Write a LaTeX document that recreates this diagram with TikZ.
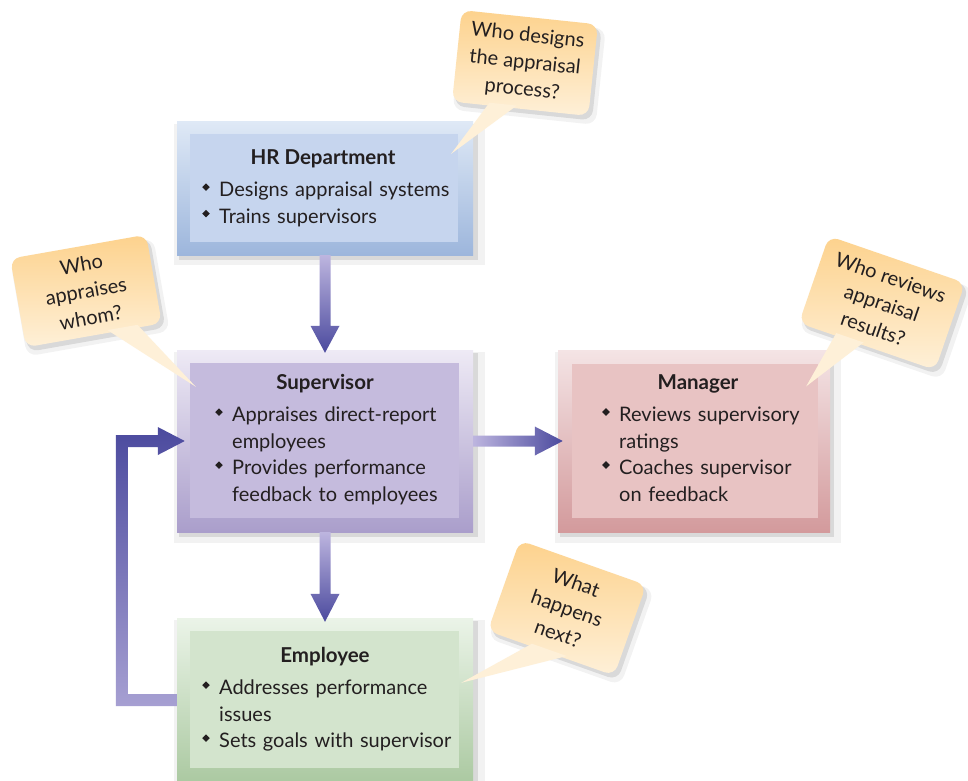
\documentclass[tikz,border=0pt]{standalone}
\usepackage{fontspec}
\setmainfont{Lato}
\usetikzlibrary{calc,shadows}

\definecolor{ink}{HTML}{231F20}
\definecolor{arrowdark}{HTML}{4B4A9E}
\definecolor{arrowlight}{HTML}{BDB5DF}
\definecolor{hrtop}{HTML}{DFE9F6}
\definecolor{hrbot}{HTML}{9DB6DC}
\definecolor{hrin}{HTML}{C6D5EE}
\definecolor{suptop}{HTML}{EEEAF5}
\definecolor{supbot}{HTML}{AA9ECB}
\definecolor{supin}{HTML}{C5BBDD}
\definecolor{mantop}{HTML}{F4E4E5}
\definecolor{manbot}{HTML}{D39A9C}
\definecolor{manin}{HTML}{E8C3C3}
\definecolor{emptop}{HTML}{EBF4E8}
\definecolor{empbot}{HTML}{A8C79E}
\definecolor{empin}{HTML}{D3E4CD}
\definecolor{bubtop}{HTML}{FDD28D}
\definecolor{bubbot}{HTML}{FEF0D8}

\newcommand{\bitem}[1]{\noindent\hangindent=0.9em\hangafter=1%
  \makebox[0.9em][l]{\hspace{0.05em}\raisebox{0.3em}{\rotatebox{45}{\rule{0.27em}{0.27em}}}}#1\par}

\begin{document}
\begin{tikzpicture}[x=1pt,y=-1pt,
  shadowed/.style={general shadow={fill=black,opacity=0.05,shadow xshift=4pt,shadow yshift=-6pt,shadow scale=1.05},
                   general shadow={fill=black,opacity=0.1,shadow xshift=3pt,shadow yshift=-4pt,shadow scale=1.01}},
  outerbox/.style={inner sep=0pt, shadowed},
  innerbox/.style={inner sep=0pt},
  boxtitle/.style={inner sep=0pt, text=ink, font=\fontsize{20.5}{24}\selectfont\bfseries},
  blist/.style={anchor=north west, inner sep=0pt, text width=270, align=left, text=ink,
                font=\fontsize{20}{26.5}\selectfont},
  bubble/.style={rounded corners=10pt, inner sep=0pt, align=center, text=ink,
                 top color=bubtop, bottom color=bubbot, shadowed,
                 font=\fontsize{20}{27}\selectfont},
  tail/.style={fill=bubbot}
]
\useasboundingbox (0,0) rectangle (968,780);
\clip (0,0) rectangle (968,780);
\fill[white] (0,0) rectangle (968,780);

% boxes
\node[outerbox, minimum width=296, minimum height=134, top color=hrtop, bottom color=hrbot] (hr) at (325,188) {};
\node[innerbox, minimum width=268, minimum height=108, fill=hrin] (hrin) at (324,188) {};
\node[boxtitle] (hrt) at (323,159) {HR Department};
\node[blist] (hrl) at (201,182) {\bitem{Designs appraisal systems}\bitem{Trains supervisors}};

\node[outerbox, minimum width=296, minimum height=182, top color=suptop, bottom color=supbot] (sup) at (325,441) {};
\node[innerbox, minimum width=269, minimum height=155, fill=supin] (supin) at (324.5,440.5) {};
\node[boxtitle] (supt) at (325,384) {Supervisor};
\node[blist] (supl) at (214,407) {\bitem{Appraises direct-report\newline employees}\bitem{Provides performance\newline feedback to employees}};

\node[outerbox, minimum width=272, minimum height=182, top color=mantop, bottom color=manbot] (man) at (694,441) {};
\node[innerbox, minimum width=246, minimum height=154, fill=manin] (manin) at (695,440.5) {};
\node[boxtitle] (mant) at (698,384) {Manager};
\node[blist] (manl) at (601,407) {\bitem{Reviews supervisory\newline ratings}\bitem{Coaches supervisor\newline on feedback}};

\node[outerbox, minimum width=296, minimum height=172, top color=emptop, bottom color=empbot] (emp) at (325,704) {};
\node[innerbox, minimum width=269, minimum height=137, fill=empin] (empin) at (324.5,699.5) {};
\node[boxtitle] (empt) at (325,657) {Employee};
\node[blist] (empl) at (201,680) {\bitem{Addresses performance\newline issues}\bitem{Sets goals with supervisor}};

% arrows
\shade[top color=arrowlight, bottom color=arrowdark]
  ($(hr.south)+(-5.5,0)$) -- ($(sup.north)+(-5.5,-24)$) -- ++(-9,0) -- ($(sup.north)+(0,3)$)
  -- ($(sup.north)+(14.5,-24)$) -- ++(-9,0) -- ($(hr.south)+(5.5,0)$) -- cycle;
\shade[top color=arrowlight, bottom color=arrowdark]
  ($(sup.south)+(-5.5,0)$) -- ($(emp.north)+(-5.5,-24)$) -- ++(-9,0) -- ($(emp.north)+(0,4)$)
  -- ($(emp.north)+(14.5,-24)$) -- ++(-9,0) -- ($(sup.south)+(5.5,0)$) -- cycle;
\shade[left color=arrowlight, right color=arrowdark]
  ($(sup.east)+(0,-5.5)$) -- ($(man.west)+(-23,-5.5)$) -- ++(0,-9) -- ($(man.west)+(5,0)$)
  -- ($(man.west)+(-23,14.5)$) -- ++(0,-9) -- ($(sup.east)+(0,5.5)$) -- cycle;
% feedback loop
\shade[top color=arrowdark, bottom color=arrowlight!80!arrowdark]
  ($(emp.west)+(0,2)$) -- ($(emp.west)+(-61,2)$) -- ($(sup.west)+(-61,-6)$) -- ($(sup.west)+(-19,-6)$)
  -- ($(sup.west)+(-19,-14)$) -- ($(sup.west)+(8,0)$) -- ($(sup.west)+(-19,14)$) -- ($(sup.west)+(-19,6)$)
  -- ($(sup.west)+(-49,6)$) -- ($(emp.west)+(-49,-10)$) -- ($(emp.west)+(0,-10)$) -- cycle;

% callouts
\node[bubble, minimum width=137, minimum height=92, rotate=-6] (q1) at (525,63) {Who designs\\the appraisal\\process?};
\fill[tail] ($(q1.south west)!0.55!(q1.south)+(0,-3)$) -- ($(hrin.north east)+(-7,20)$)
  -- ($(q1.south west)!0.95!(q1.south)+(0,-3)$) -- cycle;

\node[bubble, minimum width=138, minimum height=90, rotate=10] (q2) at (86,291) {Who\\appraises\\whom?};
\fill[tail] ($(q2.south west)!0.6!(q2.south east)+(0,-3)$) -- ($(supin.north west)+(6,24)$)
  -- ($(q2.south west)!0.82!(q2.south east)+(0,-3)$) -- cycle;

\node[bubble, minimum width=144, minimum height=92, rotate=-19] (q3) at (882,303) {Who reviews\\appraisal\\results?};
\fill[tail] ($(q3.south west)!0.55!(q3.south)+(0,-3)$) -- ($(manin.north east)+(-12,23)$)
  -- ($(q3.south west)!0.95!(q3.south)+(0,-3)$) -- cycle;

\node[bubble, minimum width=134, minimum height=96, rotate=-19.5] (q4) at (567,608) {What\\happens\\next?};
\fill[tail] ($(q4.south west)!0.7!(q4.south)+(0,-3)$) -- ($(empin.north east)+(2,52)$)
  -- ($(q4.south)!0.25!(q4.south east)+(0,-3)$) -- cycle;
\end{tikzpicture}
\end{document}
